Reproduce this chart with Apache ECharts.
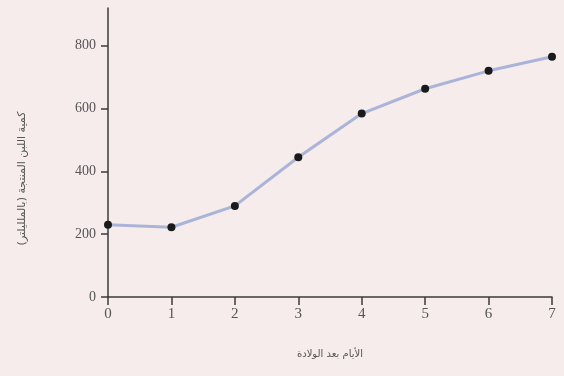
<!DOCTYPE html>
<html><head><meta charset="utf-8">
<script src="https://cdn.jsdelivr.net/npm/echarts@6/dist/echarts.min.js"></script>
<style>html,body{margin:0;padding:0;background:#f6ecec;}#c{width:564px;height:376px;}</style>
</head><body><div id="c"></div>
<script>
const days = [0, 1, 2, 3, 4, 5, 6, 7];
const milk = [230, 222, 290, 445, 584, 663, 720, 765];
const yTicks = [0, 200, 400, 600, 800];
const xName = 'الأيام بعد الولادة';
const yName = 'كمية اللبن المنتجة (بالملليلتر)';

const chart = echarts.init(document.getElementById('c'));
chart.setOption({
  backgroundColor: '#f6ecec',
  animation: false,
  grid: {left: 108, right: 12, top: 8, bottom: 79},
  xAxis: {
    type: 'value', min: 0, max: 7, interval: 1,
    name: xName, nameLocation: 'middle', nameGap: 52,
    nameTextStyle: {fontFamily: 'DejaVu Sans', fontSize: 10, color: '#555'},
    axisLine: {lineStyle: {color: '#3a3a3a', width: 1.5}},
    axisTick: {show: true, length: 8, lineStyle: {color: '#3a3a3a', width: 1.5}},
    axisLabel: {fontFamily: 'Liberation Serif', fontSize: 15, color: '#555', margin: 10},
    splitLine: {show: false}
  },
  yAxis: {
    type: 'value', min: 0, max: 920,
    name: yName, nameLocation: 'middle', nameGap: 80, nameRotate: 90,
    nameTextStyle: {fontFamily: 'DejaVu Sans', fontSize: 11, color: '#555', padding: [0, 52, 0, 0]},
    axisLine: {show: true, lineStyle: {color: '#3a3a3a', width: 1.5}},
    axisTick: {show: true, length: 7, customValues: yTicks, lineStyle: {color: '#3a3a3a', width: 1.5}},
    axisLabel: {fontFamily: 'Liberation Serif', fontSize: 14, color: '#555', margin: 12, customValues: yTicks},
    splitLine: {show: false}
  },
  series: [{
    type: 'line',
    data: days.map((d, i) => [d, milk[i]]),
    symbol: 'circle', symbolSize: 8,
    itemStyle: {color: '#1a1a1a'},
    lineStyle: {color: '#aab4d8', width: 3},
    clip: false
  }]
});
</script></body></html>
